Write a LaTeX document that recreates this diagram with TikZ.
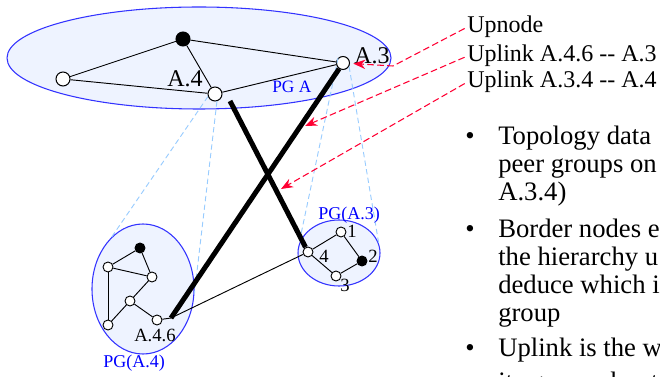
\documentclass[tikz,border=0pt]{standalone}
\usepackage{fontspec}
\setmainfont{Liberation Serif}
\usetikzlibrary{shapes.geometric,arrows.meta}
\definecolor{pgblue}{RGB}{51,51,255}
\definecolor{pgfill}{RGB}{238,243,255}
\definecolor{projblue}{RGB}{153,204,255}
\definecolor{upred}{RGB}{255,0,51}
\definecolor{lblblue}{RGB}{0,0,255}

\begin{document}
\begin{tikzpicture}[line cap=butt,line join=round,x=0.75pt,y=-0.75pt,
    pgroup/.style={ellipse,draw=pgblue,fill=pgfill,line width=0.8pt,inner sep=0pt},
    wnode/.style={circle,draw,fill=white,line width=0.8pt,inner sep=0pt,minimum size=10.5pt},
    bnode/.style={wnode,fill=black},
    snode/.style={wnode,minimum size=7.5pt,line width=0.7pt},
    sbnode/.style={snode,fill=black},
    link/.style={line width=0.7pt},
    uplink/.style={line width=3.75pt},
    proj/.style={draw=projblue,line width=0.7pt,dash pattern=on 4pt off 2.5pt},
    pointer/.style={draw=upred,line width=0.8pt,dash pattern=on 5pt off 2.5pt,-{Stealth[length=9pt,width=7pt]}},
    lbl/.style={anchor=base west,inner sep=0pt,font=\fontsize{18}{20}\selectfont},
    pglbl/.style={anchor=base west,inner sep=0pt,text=lblblue,font=\fontsize{13.5}{15}\selectfont},
    smlbl/.style={anchor=base west,inner sep=0pt,font=\fontsize{14}{16}\selectfont},
    txt/.style={anchor=base west,inner sep=0pt,font=\fontsize{20}{22}\selectfont}]

    \useasboundingbox (0,0) rectangle (660,377);
    \clip (0,0) rectangle (660,377);

    % peer groups
    \node[pgroup,minimum width=288pt,minimum height=76.5pt] (pgA) at (199,58) {};
    \node[pgroup,minimum width=76.5pt,minimum height=97.5pt] (pg4) at (143,289) {};
    \node[pgroup,minimum width=61.5pt,minimum height=49.5pt] (pg3) at (339,253) {};

    % nodes of PG A
    \node[wnode] (aL) at (63,79) {};
    \node[bnode] (aB) at (183,39) {};
    \node[wnode] (a4) at (215,94) {};
    \node[wnode,minimum size=9.75pt] (a3) at (343,63) {};

    % nodes of PG(A.4)
    \node[sbnode] (b1) at (140,248) {};
    \node[snode] (b2) at (108,267) {};
    \node[snode] (b3) at (152,277) {};
    \node[snode] (b4) at (130,301) {};
    \node[snode] (b5) at (108,325) {};
    \node[snode] (b6) at (157,320) {};
    \coordinate (a46) at (171,318);

    % nodes of PG(A.3)
    \node[snode] (c1) at (341,232) {};
    \node[sbnode] (c2) at (362,261) {};
    \node[snode] (c3) at (336,276) {};
    \node[snode] (c4) at (308,252) {};

    % projections
    \draw[proj] (a4.200) -- (pg4.121);
    \draw[proj] (a4.-75) -- (pg4.-5);
    \draw[proj] (a3.135) -- (pg3.168);
    \draw[proj] (a3.-30) -- (pg3.14);

    % links
    \draw[link] (aL) -- (aB);
    \draw[link] (aB) -- (a3);
    \draw[link] (aB) -- (a4);
    \draw[link] (aL) -- (a4);
    \draw[link] (a4) -- (a3);

    \draw[link] (b1) -- (b2);
    \draw[link] (b1) -- (b3);
    \draw[link] (b2) -- (b3);
    \draw[link] (b2) -- (b5);
    \draw[link] (b3) -- (b4);
    \draw[link] (b4) -- (b5);
    \draw[link] (b4) -- (b6);
    \draw[link] (b6) -- (a46);

    \draw[link] (c4) -- (c1);
    \draw[link] (c1) -- (c2);
    \draw[link] (c2) -- (c3);
    \draw[link] (c3) -- (c4);

    \draw[link] (a46) -- (c4);

    % uplinks
    \coordinate (u1) at (230,101);
    \draw[uplink] (u1) -- (c4);
    \draw[uplink] (a3) -- (a46);

    % labels
    \node[lbl] (lA4) at (167,87) {A.4};
    \node[lbl] (lA3) at (354,64) {A.3};
    \node[pglbl,font=\fontsize{13}{15}\selectfont] (lpgA) at (272,93) {PG A};
    \node[pglbl] (lpg3) at (318,220) {PG(A.3)};
    \node[pglbl] (lpg4) at (103,368) {PG(A.4)};
    \node[smlbl] (lA46) at (134,342) {A.4.6};
    \node[smlbl] (l1) at (347,238) {1};
    \node[smlbl] (l2) at (368,263) {2};
    \node[smlbl] (l3) at (340,292) {3};
    \node[smlbl] (l4) at (319,263) {4};

    \node[lbl] (upn) at (467,33) {Upnode};
    \node[lbl] (ul1) at (467,62) {Uplink A.4.6 -{}- A.3};
    \node[lbl] (ul2) at (467,88) {Uplink A.3.4 -{}- A.4};

    % pointers
    \coordinate (bend) at (393,66);
    \coordinate (tip2) at (305,126);
    \coordinate (tip3) at (281,189);
    \draw[pointer,shorten >=2.5pt,shorten <=2pt] (upn.west) -- (bend) -- (a3);
    \draw[pointer,shorten <=2pt] (ul1.west) -- (tip2);
    \draw[pointer,shorten <=2pt] (ul2.west) -- (tip3);

    % bullets
    \node[txt] at (465,145) {\textbullet};
    \node[txt] at (498,145) {Topology data};
    \node[txt] at (498,173) {peer groups on};
    \node[txt] at (498,201) {A.3.4)};
    \node[txt] at (465,238) {\textbullet};
    \node[txt] at (498,238) {Border nodes e};
    \node[txt] at (498,266) {the hierarchy u};
    \node[txt] at (498,294) {deduce which i};
    \node[txt] at (498,322) {group};
    \node[txt] at (465,357) {\textbullet};
    \node[txt] at (498,357) {Uplink is the w};
    \node[txt] at (498,391) {its group about};
\end{tikzpicture}
\end{document}
